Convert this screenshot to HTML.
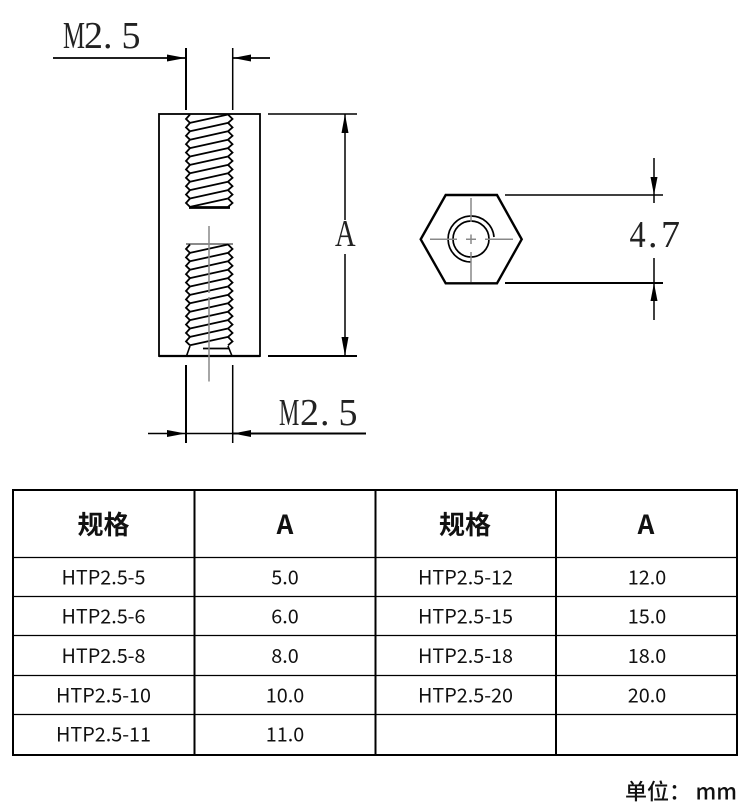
<!DOCTYPE html>
<html><head><meta charset="utf-8"><style>
html,body{margin:0;padding:0;background:#fff;width:750px;height:812px;overflow:hidden}
svg{display:block}
.d{font-family:"Liberation Serif","Noto Serif CJK SC",serif;font-size:38px;fill:#222}
.t{font-family:"Noto Sans CJK SC","Liberation Sans",sans-serif;font-size:19.8px;fill:#111;text-anchor:middle}
.h{font-family:"Noto Sans CJK SC","Liberation Sans",sans-serif;font-size:26px;font-weight:700;fill:#111;text-anchor:middle}
.u{font-family:"Noto Sans CJK SC","Liberation Sans",sans-serif;font-size:22px;font-weight:500;fill:#111}
</style></head><body>
<svg width="750" height="812" viewBox="0 0 750 812" xmlns="http://www.w3.org/2000/svg">
<defs>
<g id="tooth" fill="none" stroke="#000" stroke-width="1.8">
<path d="M190 114.5L186 119L190 122.9"/>
<path d="M228 114.5L232.5 119L228 122.9"/>
<path d="M190 122.9L228 114.5"/>
</g>
</defs>

<!-- body -->
<rect x="159" y="114" width="101" height="242" fill="none" stroke="#000" stroke-width="1.8"/>
<path d="M159 356H260" stroke="#000" stroke-width="2.2"/>

<!-- top thread -->
<use href="#tooth"/>
<use href="#tooth" y="8.4"/>
<use href="#tooth" y="16.8"/>
<use href="#tooth" y="25.2"/>
<use href="#tooth" y="33.6"/>
<use href="#tooth" y="42"/>
<use href="#tooth" y="50.4"/>
<use href="#tooth" y="58.8"/>
<use href="#tooth" y="67.2"/>
<use href="#tooth" y="75.6"/>
<use href="#tooth" y="84"/>
<path d="M189 207.5H230" stroke="#000" stroke-width="2.8"/>

<!-- bottom thread -->
<path d="M186 244H233" stroke="#444" stroke-width="1.2"/>
<g transform="translate(0,130)">
<use href="#tooth"/>
<use href="#tooth" y="8.4"/>
<use href="#tooth" y="16.8"/>
<use href="#tooth" y="25.2"/>
<use href="#tooth" y="33.6"/>
<use href="#tooth" y="42"/>
<use href="#tooth" y="50.4"/>
<use href="#tooth" y="58.8"/>
<use href="#tooth" y="67.2"/>
<use href="#tooth" y="75.6"/>
<use href="#tooth" y="84"/>
<use href="#tooth" y="92.4"/>
</g>
<path d="M190 346L186.5 356M228 346L232 356" stroke="#000" stroke-width="1.6" fill="none"/>
<path d="M203 348.5H229" stroke="#000" stroke-width="1.8"/>
<path d="M209 226V293M209 297V381.5" stroke="#888" stroke-width="1.5"/>

<!-- dimensions -->
<g stroke="#000" fill="none">
<path d="M186 48V110" stroke-width="2"/>
<path d="M232.7 48V110" stroke-width="1.5"/>
<path d="M53 58H186" stroke-width="1.7"/>
<path d="M233 58H270" stroke-width="1.7"/>
<path d="M186 365V443" stroke-width="2"/>
<path d="M232.7 365V443" stroke-width="1.5"/>
<path d="M148 433.5H233" stroke-width="1.5"/>
<path d="M233 433.5H366" stroke-width="1.9"/>
<path d="M268 114H357" stroke-width="1.6"/>
<path d="M268 356H357" stroke-width="1.9"/>
<path d="M345 114V220M345 254V356" stroke-width="1.5"/>
<path d="M505 195H663" stroke-width="1.5"/>
<path d="M505 283H663" stroke-width="1.9"/>
<path d="M654 158V203M654 258V320" stroke-width="1.5"/>
</g>
<g fill="#000">
<path d="M185.5 58L167 54.5V61.5Z"/>
<path d="M233 58L251 54.5V61.5Z"/>
<path d="M185.5 433.5L167 430V437Z"/>
<path d="M233 433.5L251 430V437Z"/>
<path d="M345 114L341.5 133H348.5Z"/>
<path d="M345 356L341.5 337H348.5Z"/>
<path d="M654 195L650.5 177H657.5Z"/>
<path d="M654 283L650.5 301H657.5Z"/>
</g>

<!-- hex -->
<path d="M445.7 195H497L521.7 239.3L497 283.3H445.7L420.7 239.3Z" fill="none" stroke="#000" stroke-width="2.4"/>
<circle cx="471" cy="239" r="18" fill="none" stroke="#000" stroke-width="1.7"/>
<path d="M494 237A23 23 0 1 0 471 262" fill="none" stroke="#000" stroke-width="1.7"/>
<path d="M430 239.3H457M466 239.3H476M485 239.3H513M471 198V222M471 234.5V244M471 252V282" fill="none" stroke="#888" stroke-width="1.5"/>

<!-- dim text -->
<text class="d" transform="translate(63,48) scale(.65,1)">M</text>
<text class="d" x="84" y="48">2</text>
<text class="d" x="103" y="48">.</text>
<text class="d" x="121.5" y="48">5</text>
<text class="d" transform="translate(279,425) scale(.6,1)">M</text>
<text class="d" x="300" y="425">2</text>
<text class="d" x="320" y="425">.</text>
<text class="d" x="338.5" y="425">5</text>
<text class="d" transform="translate(335,246) scale(.75,1)">A</text>
<text class="d" transform="translate(629.500,247) scale(.85,1)">4</text>
<text class="d" x="648" y="247">.</text>
<text class="d" x="661" y="247">7</text>

<!-- table -->
<rect x="13" y="490" width="724" height="265" fill="none" stroke="#000" stroke-width="2"/>
<path d="M194.5 490V755M375.5 490V755M556 490V755" stroke="#000" stroke-width="2" fill="none"/>
<path d="M13 557.5H737M13 596.5H737M13 635.5H737M13 675.5H737M13 714.5H737" stroke="#000" stroke-width="1.2" fill="none"/>
<text class="h" x="103.500" y="534">规格</text>
<text class="h" x="285" y="534">A</text>
<text class="h" x="465" y="534">规格</text>
<text class="h" x="646" y="534">A</text>

<text class="t" x="103.500" y="584.500">HTP2.5-5</text><text class="t" x="285" y="584.500">5.0</text>
<text class="t" x="465.5" y="584.500">HTP2.5-12</text><text class="t" x="647" y="584.500">12.0</text>
<text class="t" x="103.500" y="623.500">HTP2.5-6</text><text class="t" x="285" y="623.500">6.0</text>
<text class="t" x="465.5" y="623.500">HTP2.5-15</text><text class="t" x="647" y="623.500">15.0</text>
<text class="t" x="103.500" y="663">HTP2.5-8</text><text class="t" x="285" y="663">8.0</text>
<text class="t" x="465.5" y="663">HTP2.5-18</text><text class="t" x="647" y="663">18.0</text>
<text class="t" x="103.500" y="702.500">HTP2.5-10</text><text class="t" x="285" y="702.500">10.0</text>
<text class="t" x="465.5" y="702.500">HTP2.5-20</text><text class="t" x="647" y="702.500">20.0</text>
<text class="t" x="103.500" y="741.500">HTP2.5-11</text><text class="t" x="285" y="741.500">11.0</text>

<text class="u" x="625" y="799.500">单位：</text>
<text class="u" x="737" y="799.500" text-anchor="end">mm</text>
</svg>
</body></html>
